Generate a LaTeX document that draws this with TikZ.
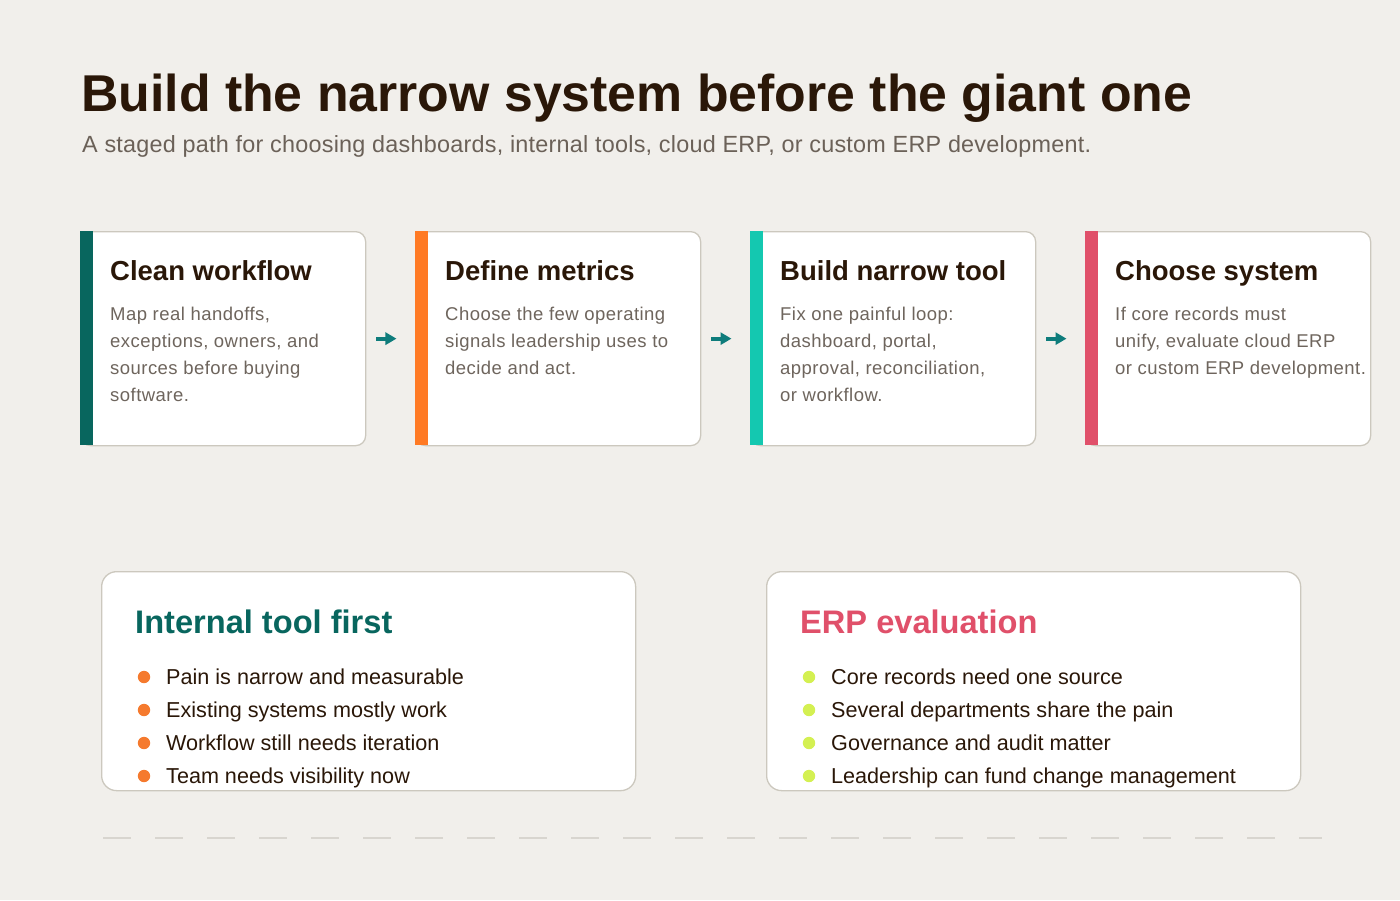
\documentclass[tikz,border=0pt]{standalone}
\usepackage{fontspec}
\setmainfont{Liberation Sans}
\newfontfamily\bodyfont[LetterSpace=2.5]{Liberation Sans}
\newfontfamily\subfont[LetterSpace=1.0]{Liberation Sans}
\usetikzlibrary{arrows.meta,calc}
\definecolor{bg}{HTML}{F1EFEB}
\definecolor{ink}{HTML}{2A1708}
\definecolor{sub}{HTML}{6B6158}
\definecolor{bodyc}{HTML}{6E655D}
\definecolor{edge}{HTML}{CCC8BE}
\definecolor{tealdk}{HTML}{08665E}
\definecolor{orng}{HTML}{FF7A24}
\definecolor{turq}{HTML}{14C8B0}
\definecolor{rose}{HTML}{E0506A}
\definecolor{arrowc}{HTML}{0E7C7B}
\definecolor{dotor}{HTML}{F57A2E}
\definecolor{dotli}{HTML}{D4F052}
\definecolor{dashc}{HTML}{D8D5CF}
\begin{document}
\begin{tikzpicture}[x=1pt,y=-1pt,
  card/.style={draw=edge,line width=1.3pt,fill=white,rounded corners=10pt,
    minimum width=285pt,minimum height=214pt,anchor=north west,inner sep=0pt},
  bigcard/.style={draw=edge,line width=1.3pt,fill=white,rounded corners=15pt,
    minimum width=534pt,minimum height=219pt,anchor=north west,inner sep=0pt},
  ctitle/.style={anchor=base west,inner sep=0pt,text=ink,font=\fontsize{27.5}{31}\selectfont\bfseries},
  cbody/.style={anchor=base west,inner sep=0pt,text=bodyc,font=\bodyfont\fontsize{18.5}{22}\selectfont},
  btitle/.style={anchor=base west,inner sep=0pt,font=\fontsize{32.6}{36}\selectfont\bfseries},
  bitem/.style={anchor=base west,inner sep=0pt,text=ink,font=\fontsize{21.6}{25}\selectfont},
  flow/.style={draw=arrowc,line width=4pt,-{Triangle[length=11pt,width=12pt]}},
]
\useasboundingbox[fill=bg] (0,0) rectangle (1400,900);

\node[anchor=base west,inner sep=0pt,text=ink,font=\fontsize{51.8}{56}\selectfont\bfseries] (title) at (81,111) {Build the narrow system before the giant one};
\node[anchor=base west,inner sep=0pt,text=sub,font=\subfont\fontsize{23.4}{27}\selectfont] (subtitle) at (82,152) {A staged path for choosing dashboards, internal tools, cloud ERP, or custom ERP development.};

% top cards
\node[card] (c1) at (80,231) {};
\node[card] (c2) at (415,231) {};
\node[card] (c3) at (750,231) {};
\node[card] (c4) at (1085,231) {};
\fill[tealdk] (80,231) rectangle (93,445);
\fill[orng] (415,231) rectangle (428,445);
\fill[turq] (750,231) rectangle (763,445);
\fill[rose] (1085,231) rectangle (1098,445);

\node[ctitle] (t1) at (110,280) {Clean workflow};
\node[cbody] (b1a) at (110,320) {Map real handoffs,};
\node[cbody] (b1b) at (110,347) {exceptions, owners, and};
\node[cbody] (b1c) at (110,374) {sources before buying};
\node[cbody] (b1d) at (110,401) {software.};

\node[ctitle] (t2) at (445,280) {Define metrics};
\node[cbody] (b2a) at (445,320) {Choose the few operating};
\node[cbody] (b2b) at (445,347) {signals leadership uses to};
\node[cbody] (b2c) at (445,374) {decide and act.};

\node[ctitle] (t3) at (780,280) {Build narrow tool};
\node[cbody] (b3a) at (780,320) {Fix one painful loop:};
\node[cbody] (b3b) at (780,347) {dashboard, portal,};
\node[cbody] (b3c) at (780,374) {approval, reconciliation,};
\node[cbody] (b3d) at (780,401) {or workflow.};

\node[ctitle] (t4) at (1115,280) {Choose system};
\node[cbody] (b4a) at (1115,320) {If core records must};
\node[cbody] (b4b) at (1115,347) {unify, evaluate cloud ERP};
\node[cbody] (b4c) at (1115,374) {or custom ERP development.};

\draw[flow] ($(c1.east)!0.2!(c2.west)$) -- ($(c1.east)!0.62!(c2.west)$);
\draw[flow] ($(c2.east)!0.2!(c3.west)$) -- ($(c2.east)!0.62!(c3.west)$);
\draw[flow] ($(c3.east)!0.2!(c4.west)$) -- ($(c3.east)!0.62!(c4.west)$);

% bottom cards
\node[bigcard] (p1) at (101,571) {};
\node[bigcard] (p2) at (766,571) {};

\node[btitle,text=tealdk] (pt1) at (135,633) {Internal tool first};
\node[btitle,text=rose] (pt2) at (800,633) {ERP evaluation};

\foreach \txt [count=\i] in {Pain is narrow and measurable,Existing systems mostly work,Workflow still needs iteration,Team needs visibility now}{
  \fill[dotor] (144,{677+33*(\i-1)}) circle (6.2pt);
  \node[bitem] (li\i) at (166,{684+33*(\i-1)}) {\txt};
}
\foreach \txt [count=\i] in {Core records need one source,Several departments share the pain,Governance and audit matter,Leadership can fund change management}{
  \fill[dotli] (809,{677+33*(\i-1)}) circle (6.2pt);
  \node[bitem] (ri\i) at (831,{684+33*(\i-1)}) {\txt};
}

\draw[dashc,line width=2pt,dash pattern=on 28pt off 24pt] (103,838) -- (1322,838);
\end{tikzpicture}
\end{document}
